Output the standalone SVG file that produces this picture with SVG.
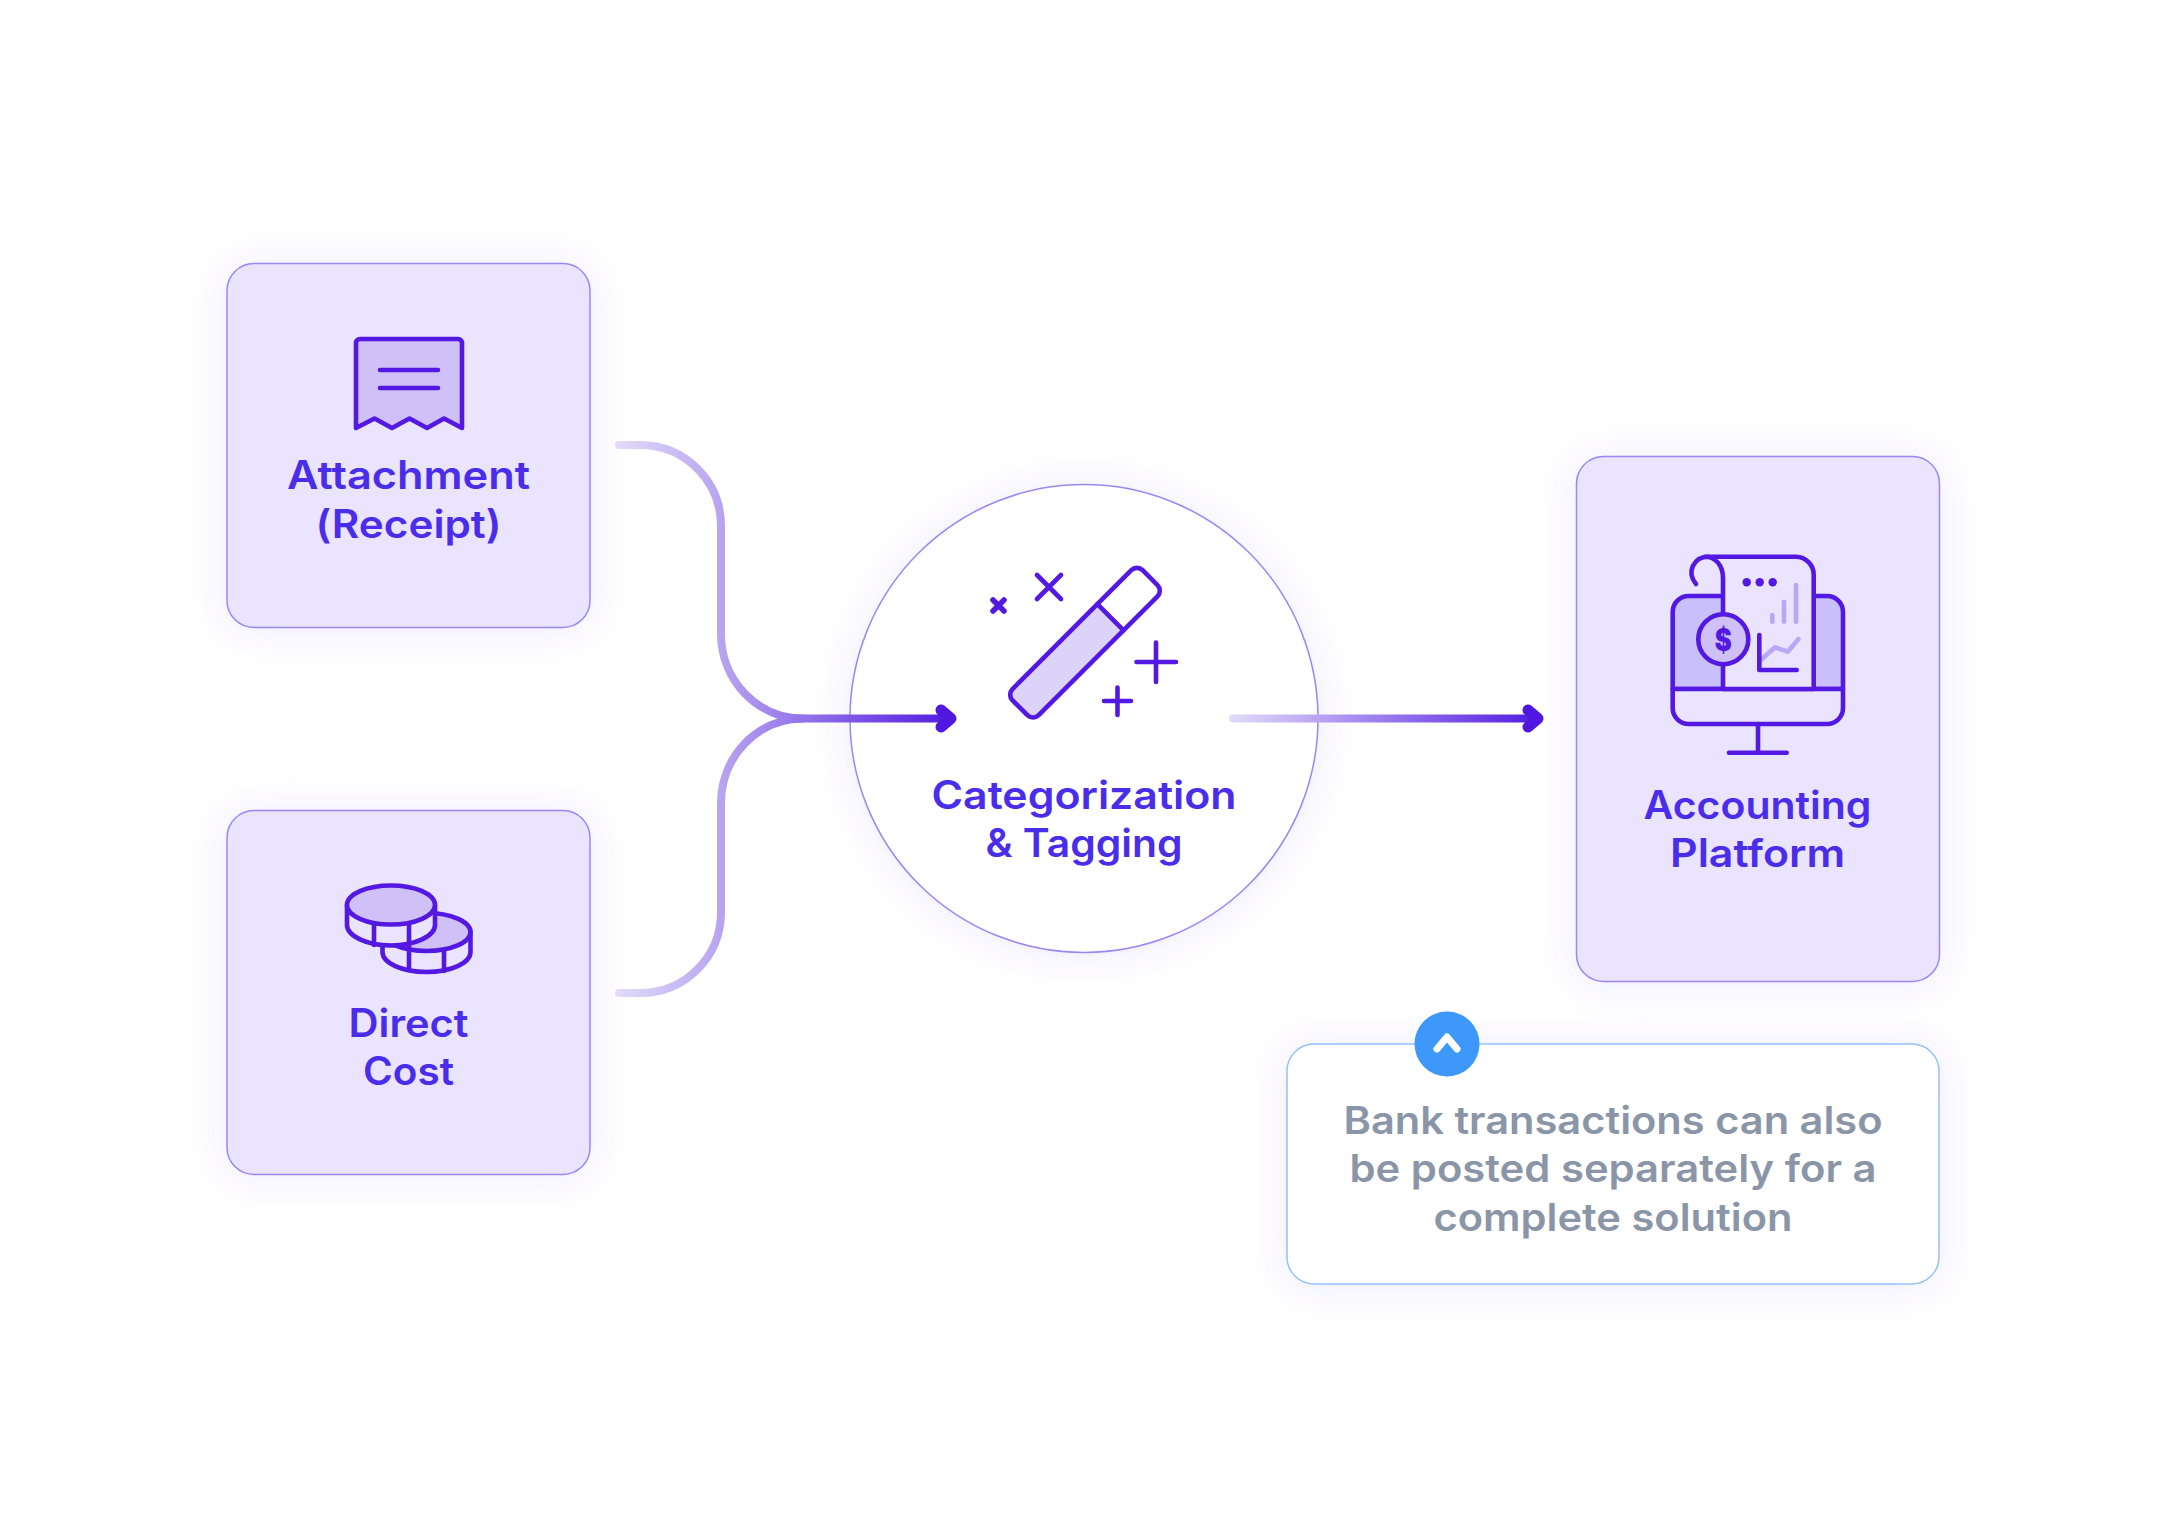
<svg xmlns="http://www.w3.org/2000/svg" width="2167" height="1517" viewBox="0 0 2167 1517">
<style>
.box{fill:#eae4fe;stroke:#9c86f6;stroke-width:1.5;filter:url(#glow)}
.lbl{font-family:"Inter","Liberation Sans",sans-serif;font-weight:600;font-size:39px;fill:#4a2deb;text-anchor:middle;font-variant-ligatures:none}
.note{font-family:"Inter","Liberation Sans",sans-serif;font-weight:600;font-size:38px;fill:#8a96a8;text-anchor:middle;font-variant-ligatures:none}
.ic{fill:none;stroke:#5318e2;stroke-width:4.600;stroke-linecap:round;stroke-linejoin:round}
.lt{fill:none;stroke:#b7a7f8;stroke-width:4.600;stroke-linecap:round;stroke-linejoin:round}
.conn{fill:none;stroke-width:8;stroke-linecap:round}
.head{fill:none;stroke:#4f17e0;stroke-width:11;stroke-linecap:round;stroke-linejoin:round}
</style>
<defs>
<filter id="glow" x="-20%" y="-20%" width="140%" height="140%"><feDropShadow dx="0" dy="2" stdDeviation="18" flood-color="#6a4df0" flood-opacity="0.12"/></filter>
<linearGradient id="g1" gradientUnits="userSpaceOnUse" x1="615" y1="0" x2="957" y2="0"><stop offset="0" stop-color="#e2dcfa"/><stop offset="0.3" stop-color="#b9a6f0"/><stop offset="0.55" stop-color="#9373ea"/><stop offset="1" stop-color="#4f17e0"/></linearGradient>
<linearGradient id="g2" gradientUnits="userSpaceOnUse" x1="1229" y1="0" x2="1544" y2="0"><stop offset="0" stop-color="#e2dcfa"/><stop offset="1" stop-color="#4f17e0"/></linearGradient>
</defs>
<rect width="2167" height="1517" fill="#ffffff"/>

<g id="node-attachment">
<rect class="box" x="227" y="263.500" width="363" height="364" rx="27"/>
<path d="M356 428V343a4 4 0 0 1 4-4H458a4 4 0 0 1 4 4V428L444 418.500L427 428L409.500 418.500L392 428L374.500 418.500Z" class="ic" style="fill:#cfc0f8"/>
<path class="ic" d="M380 370H438M380 388H438"/>
<text class="lbl" x="408.500" y="489" textLength="243" lengthAdjust="spacingAndGlyphs">Attachment</text>
<text class="lbl" x="408.500" y="538" textLength="186" lengthAdjust="spacingAndGlyphs">(Receipt)</text>
</g>

<g id="node-direct-cost">
<rect class="box" x="227" y="810.500" width="363" height="364" rx="27"/>
<path class="ic" style="fill:#eae4fe" d="M382.500 932V952C382.500 963 402 972 426.500 972S470.500 963 470.500 952V932Z"/>
<ellipse class="ic" style="fill:#cfc0f8" cx="426.500" cy="932" rx="44" ry="19"/>
<path class="ic" d="M444 950V971"/>
<path class="ic" style="fill:#eae4fe" d="M347 905V925C347 936 367 945.500 391 945.500S435 936 435 925V905Z"/>
<ellipse class="ic" style="fill:#cfc0f8" cx="391" cy="905" rx="44" ry="19.500"/>
<path class="ic" d="M374 923V945M409 923V970"/>
<text class="lbl" x="408.500" y="1037" textLength="120" lengthAdjust="spacingAndGlyphs">Direct</text>
<text class="lbl" x="408.500" y="1085" textLength="91" lengthAdjust="spacingAndGlyphs">Cost</text>
</g>

<g id="node-categorization">
<circle cx="1084" cy="718.500" r="234" fill="#ffffff" stroke="#9c86f6" stroke-width="1.500" filter="url(#glow)"/>
<g transform="translate(1085 642.700) rotate(-45)">
<rect x="-92" y="-18.500" width="184" height="37" rx="8" fill="#ffffff"/>
<path d="M36 -18.500H-84a8 8 0 0 0-8 8V10.500a8 8 0 0 0 8 8H36Z" fill="#ddd2f8"/>
<rect class="ic" x="-92" y="-18.500" width="184" height="37" rx="8"/>
<path class="ic" d="M36 -18.500V18.500"/>
</g>
<path class="ic" d="M1037 575L1061 599M1061 575L1037 599"/>
<path class="ic" style="stroke-width:5.500" d="M993 600L1004 611M1004 600L993 611"/>
<path class="ic" d="M1136.500 662H1176M1156 642.500V682"/>
<path class="ic" d="M1104 701H1131M1117.500 687.500V715"/>
<text class="lbl" x="1084" y="809" textLength="305" lengthAdjust="spacingAndGlyphs">Categorization</text>
<text class="lbl" x="1084" y="857" textLength="197" lengthAdjust="spacingAndGlyphs">&amp; Tagging</text>
</g>

<g id="node-accounting">
<rect class="box" x="1576.500" y="456.500" width="363" height="525" rx="27"/>
<path class="ic" style="fill:#c9bffa" d="M1672.700 689V612a16 16 0 0 1 16-16H1827a16 16 0 0 1 16 16V689Z"/>
<path class="ic" d="M1672.700 689V708a16 16 0 0 0 16 16H1827a16 16 0 0 0 16-16V689Z" style="fill:#eae4fe"/>
<path class="ic" style="fill:#eae4fe" d="M1723 689V578C1723 566 1716 556.700 1705 556.700H1796a18 18 0 0 1 17.700 18V689Z"/>
<path class="ic" d="M1696 584C1686 572 1694 556.700 1708 556.700"/>
<circle class="ic" style="fill:#cfc0f8" cx="1723.300" cy="639.300" r="25"/>
<text x="1723.300" y="651" font-family="Inter,'Liberation Sans',sans-serif" font-weight="900" font-size="32" fill="#5318e2" text-anchor="middle" textLength="17" lengthAdjust="spacingAndGlyphs">$</text>
<circle cx="1746.700" cy="582.300" r="4.200" fill="#5318e2"/><circle cx="1759.700" cy="582.300" r="4.200" fill="#5318e2"/><circle cx="1772.700" cy="582.300" r="4.200" fill="#5318e2"/>
<path class="lt" d="M1772.300 615V621.700M1784 601.700V621.700M1796 585V621.700M1761.700 659.300L1775 647.300L1787.700 651.700L1798.300 639.300"/>
<path class="ic" d="M1759.300 635V670H1796.700"/>
<path class="ic" d="M1758 724V752.700M1729 752.700H1786.700"/>
<text class="lbl" x="1757.500" y="819" textLength="228" lengthAdjust="spacingAndGlyphs">Accounting</text>
<text class="lbl" x="1757.500" y="867" textLength="175" lengthAdjust="spacingAndGlyphs">Platform</text>
</g>

<g id="node-note">
<rect x="1287" y="1044" width="652" height="240" rx="27" fill="#ffffff" stroke="#93c1fb" stroke-width="1.500" filter="url(#glow)"/>
<circle cx="1447" cy="1044" r="32.500" fill="#3e98fa"/>
<path d="M1437 1049L1447 1037L1457 1049" fill="none" stroke="#ffffff" stroke-width="7" stroke-linecap="round" stroke-linejoin="round"/>
<text class="note" x="1613" y="1134" textLength="539" lengthAdjust="spacingAndGlyphs">Bank transactions can also</text>
<text class="note" x="1613" y="1182" textLength="527" lengthAdjust="spacingAndGlyphs">be posted separately for a</text>
<text class="note" x="1613" y="1231" textLength="359" lengthAdjust="spacingAndGlyphs">complete solution</text>
</g>

<g id="connectors">
<path class="conn" stroke="url(#g1)" d="M619 445H640C685 445 721 481 721 526V634C721 680 757 718.500 803 718.500H945"/>
<path class="conn" stroke="url(#g1)" d="M619 993H640C685 993 721 957 721 912V803C721 757 757 718.500 803 718.500"/>
<path class="head" d="M941 710L951 718.500L941 727"/>
<path class="conn" stroke="url(#g2)" d="M1233 718.500H1532"/>
<path class="head" d="M1528 710L1538 718.500L1528 727"/>
</g>
</svg>
